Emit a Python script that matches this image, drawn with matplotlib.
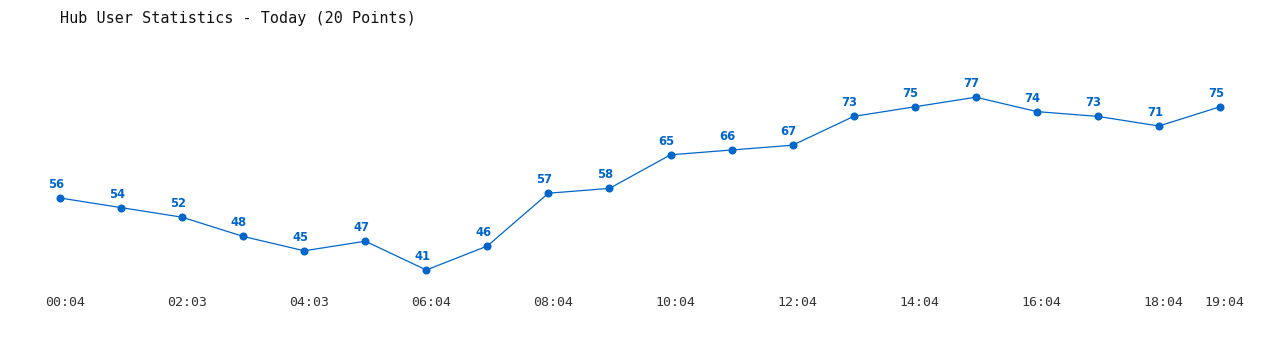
import matplotlib
matplotlib.use("Agg")
import matplotlib.pyplot as plt

values = [56, 54, 52, 48, 45, 47, 41, 46, 57, 58, 65, 66, 67, 73, 75, 77, 74, 73, 71, 75]
tick_positions = [0, 2, 4, 6, 8, 10, 12, 14, 16, 18, 19]
tick_labels = ["00:04", "02:03", "04:03", "06:04", "08:04", "10:04", "12:04",
               "14:04", "16:04", "18:04", "19:04"]
title = "Hub User Statistics - Today (20 Points)"

color = "#0066cc"
fig = plt.figure(figsize=(12.8, 3.5), dpi=100)
xmax = 19.1
ax = fig.add_axes([60/1280, (350-289.2)/350, (1160/19*xmax)/1280, 230.4/350])
x = list(range(len(values)))
ax.plot(x, values, color=color, lw=0.9, marker="o", ms=4.8, zorder=3, clip_on=False)
for xi, v in zip(x, values):
    ax.annotate(str(v), (xi, v), xytext=(-3, 5), textcoords="offset points",
                ha="center", va="bottom", color=color, fontsize=8.3,
                fontweight="bold", family="DejaVu Sans")
ax.set_xticks([p + 0.08 for p in tick_positions])
ax.set_xticklabels(tick_labels, family="DejaVu Sans Mono", fontsize=9.5, color="#333333")
ax.set_xlim(0, xmax)
ax.set_ylim(37, 85)
ax.tick_params(axis="x", length=0, pad=5)
ax.set_yticks([])
for s in ax.spines.values():
    s.set_visible(False)
fig.text(60/1280, 1 - 18/350, title, ha="left", va="center",
         family="DejaVu Sans Mono", fontsize=10.9, color="#111111")
fig.savefig("out.png", dpi=100)
